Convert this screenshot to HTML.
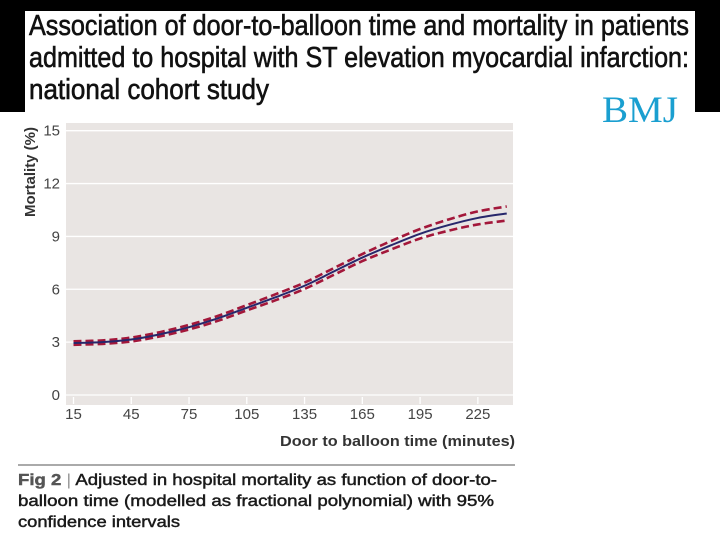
<!DOCTYPE html>
<html><head><meta charset="utf-8"><style>
html,body{margin:0;padding:0;background:#fff;width:720px;height:540px;overflow:hidden}
svg{display:block}
</style></head><body>
<svg width="720" height="540" viewBox="0 0 720 540" xmlns="http://www.w3.org/2000/svg">
<rect x="0" y="0" width="720" height="540" fill="#fff"/>
<rect x="0" y="0" width="720" height="11" fill="#000"/>
<rect x="0" y="0" width="25" height="112" fill="#000"/>
<rect x="695" y="0" width="25" height="112" fill="#000"/>
<g font-family="'Liberation Sans Narrow','Liberation Sans',sans-serif" font-size="29" fill="#111" stroke="#111" stroke-width="0.6">
<text x="29" y="35" textLength="660" lengthAdjust="spacingAndGlyphs">Association of door-to-balloon time and mortality in patients</text>
<text x="29" y="67" textLength="660" lengthAdjust="spacingAndGlyphs">admitted to hospital with ST elevation myocardial infarction:</text>
<text x="29" y="99" textLength="240" lengthAdjust="spacingAndGlyphs">national cohort study</text>
</g>
<text x="602" y="122" font-family="'Liberation Serif',serif" font-size="37" fill="#1a9fd0" textLength="76" lengthAdjust="spacingAndGlyphs">BMJ</text>

<rect x="66" y="123" width="447" height="282" fill="#e9e5e3"/>
<g id="grid"></g>
<g id="xticks"></g>
<g id="series"></g>
<g id="labels" font-family="'Liberation Sans','DejaVu Sans',sans-serif" fill="#444" font-size="15"></g>
<text transform="translate(35,172) rotate(-90)" text-anchor="middle" font-family="'Liberation Sans',sans-serif" font-weight="bold" font-size="14.5" fill="#333" textLength="90" lengthAdjust="spacingAndGlyphs">Mortality (%)</text>
<text x="515" y="446" text-anchor="end" font-family="'Liberation Sans',sans-serif" font-weight="bold" font-size="15" fill="#333" textLength="235" lengthAdjust="spacingAndGlyphs">Door to balloon time (minutes)</text>
<line x1="18" y1="465" x2="515" y2="465" stroke="#555" stroke-width="1"/>
<g font-family="'Liberation Sans','DejaVu Sans',sans-serif" font-size="15.5" fill="#1a1a1a" stroke="#1a1a1a" stroke-width="0.45">
<text x="18" y="485" textLength="479" lengthAdjust="spacingAndGlyphs"><tspan font-weight="bold" fill="#555" stroke="#555">Fig 2</tspan><tspan fill="#999" stroke="none"> | </tspan>Adjusted in hospital mortality as function of door-to-</text>
<text x="18" y="506" textLength="476" lengthAdjust="spacingAndGlyphs">balloon time (modelled as fractional polynomial) with 95%</text>
<text x="18" y="527" textLength="162" lengthAdjust="spacingAndGlyphs">confidence intervals</text>
</g>
</svg>
<script>
const times=[15,30,45,60,75,90,105,120,135,150,165,180,195,210,225,240];
const estimate=[2.95,3.0,3.15,3.45,3.85,4.35,4.95,5.55,6.2,7.0,7.8,8.5,9.15,9.65,10.05,10.3];
const upper=[3.05,3.1,3.26,3.57,3.98,4.49,5.1,5.72,6.38,7.19,8.0,8.74,9.42,9.97,10.42,10.7];
const lower=[2.85,2.9,3.04,3.33,3.72,4.21,4.8,5.38,6.02,6.81,7.6,8.26,8.88,9.33,9.68,9.9];
const yTicks=[0,3,6,9,12,15];
const xTicks=[15,45,75,105,135,165,195,225];
const NS='http://www.w3.org/2000/svg';
const X=v=>73.5+(v-15)*1.9255;
const Y=v=>395-v*(264.3/15);
function mk(t,a,p){const e=document.createElementNS(NS,t);for(const k in a)e.setAttribute(k,a[k]);p.appendChild(e);return e;}
const grid=document.getElementById('grid'),xt=document.getElementById('xticks'),ser=document.getElementById('series'),lab=document.getElementById('labels');
yTicks.forEach(v=>{
  const l=mk('line',{x1:66,x2:513,y1:Y(v),y2:Y(v),stroke:'#fff','stroke-width':1.3},grid);
  
  
  const t=mk('text',{x:60,y:Y(v)+5,'text-anchor':'end'},lab);
  t.textContent=v;
  
  
});
xTicks.forEach(v=>{
  const l=mk('line',{x1:X(v),x2:X(v),y1:397,y2:404,stroke:'#fff','stroke-width':1.3},xt);
  
  
  const t=mk('text',{x:X(v),y:419,'text-anchor':'middle'},lab);
  t.textContent=v;
  
  
});
function path(vals){
  const p=times.map((t,i)=>[X(t),Y(vals[i])]);
  let d='M'+p[0][0]+','+p[0][1];
  for(let i=0;i<p.length-1;i++){
    const p0=p[i-1]||p[i],p1=p[i],p2=p[i+1],p3=p[i+2]||p[i+1];
    const c1=[p1[0]+(p2[0]-p0[0])/6,p1[1]+(p2[1]-p0[1])/6];
    const c2=[p2[0]-(p3[0]-p1[0])/6,p2[1]-(p3[1]-p1[1])/6];
    d+=' C'+c1+' '+c2+' '+p2;
  }
  return d;
}
const lo=mk('path',{d:path(lower),fill:'none',stroke:'#a3173a','stroke-width':2.6,'stroke-dasharray':'8 4'},ser);


const up=mk('path',{d:path(upper),fill:'none',stroke:'#a3173a','stroke-width':2.6,'stroke-dasharray':'8 4'},ser);


const est=mk('path',{d:path(estimate),fill:'none',stroke:'#27276b','stroke-width':2},ser);


</script>
</body></html>
